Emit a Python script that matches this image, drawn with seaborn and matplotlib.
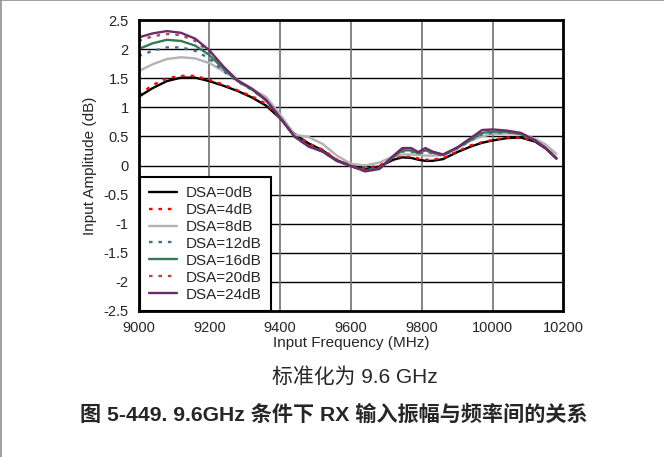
import numpy as np
import pandas as pd
import matplotlib
matplotlib.use("Agg")
import matplotlib.pyplot as plt
import seaborn as sns

# frecuencias (MHz) y amplitudes (dB)
freq = [9000, 9040, 9080, 9120, 9160, 9200, 9240, 9280, 9320, 9360, 9400,
        9440, 9480, 9520, 9560, 9600, 9640, 9680, 9720, 9745, 9770, 9790,
        9810, 9830, 9860, 9900, 9940, 9970, 10000, 10040, 10080, 10120,
        10150, 10180]

dsa_0 = [1.18, 1.33, 1.45, 1.51, 1.51, 1.45, 1.37, 1.28, 1.17, 1.03, 0.81,
         0.54, 0.38, 0.26, 0.09, 0.00, -0.06, -0.02, 0.10, 0.14, 0.13, 0.10,
         0.08, 0.08, 0.11, 0.23, 0.33, 0.39, 0.43, 0.47, 0.48, 0.41,
         0.29, 0.12]
dsa_4 = [1.22, 1.38, 1.50, 1.54, 1.54, 1.47, 1.39, 1.29, 1.19, 1.06, 0.82,
         0.55, 0.38, 0.27, 0.10, 0.01, -0.05, 0.00, 0.13, 0.16, 0.15, 0.12,
         0.10, 0.10, 0.13, 0.24, 0.35, 0.40, 0.44, 0.48, 0.48, 0.42,
         0.30, 0.13]
dsa_8 = [1.62, 1.74, 1.83, 1.86, 1.84, 1.76, 1.62, 1.47, 1.32, 1.18, 0.88,
         0.53, 0.49, 0.37, 0.17, 0.03, 0.00, 0.05, 0.16, 0.19, 0.19, 0.18,
         0.17, 0.17, 0.18, 0.30, 0.43, 0.50, 0.54, 0.55, 0.54, 0.46,
         0.36, 0.20]
dsa_12 = [1.88, 1.97, 2.03, 2.03, 1.97, 1.84, 1.62, 1.44, 1.30, 1.12, 0.82,
          0.50, 0.33, 0.24, 0.08, -0.01, -0.08, -0.04, 0.15, 0.24, 0.24, 0.20,
          0.24, 0.21, 0.17, 0.29, 0.44, 0.54, 0.56, 0.57, 0.54, 0.43,
          0.30, 0.13]
dsa_16 = [2.00, 2.10, 2.16, 2.14, 2.06, 1.90, 1.66, 1.45, 1.31, 1.12, 0.82,
          0.50, 0.33, 0.24, 0.08, -0.01, -0.09, -0.05, 0.15, 0.26, 0.26, 0.21,
          0.26, 0.22, 0.18, 0.30, 0.45, 0.56, 0.58, 0.58, 0.54, 0.43,
          0.30, 0.13]
dsa_20 = [2.14, 2.22, 2.26, 2.24, 2.14, 1.95, 1.68, 1.45, 1.31, 1.12, 0.82,
          0.50, 0.33, 0.24, 0.08, -0.01, -0.10, -0.06, 0.16, 0.28, 0.28, 0.22,
          0.28, 0.23, 0.18, 0.31, 0.47, 0.59, 0.60, 0.59, 0.55, 0.43,
          0.30, 0.12]
dsa_24 = [2.20, 2.27, 2.31, 2.28, 2.18, 1.98, 1.70, 1.46, 1.32, 1.13, 0.82,
          0.50, 0.33, 0.24, 0.08, -0.01, -0.10, -0.06, 0.17, 0.30, 0.30, 0.23,
          0.30, 0.24, 0.19, 0.31, 0.48, 0.61, 0.62, 0.60, 0.56, 0.43,
          0.30, 0.12]

labels = ["DSA=0dB", "DSA=4dB", "DSA=8dB", "DSA=12dB", "DSA=16dB", "DSA=20dB", "DSA=24dB"]
series = [dsa_0, dsa_4, dsa_8, dsa_12, dsa_16, dsa_20, dsa_24]
colores = ["#000000", "#ff0000", "#b3b3b3", "#3d6f8e", "#2f7a58", "#b04c48", "#6b2c6c"]
estilos = ["-", (0, (1.5, 2.5)), "-", (0, (1.5, 2.5)), "-", (0, (1.5, 2.5)), "-"]

sns.set_style("white")
plt.rcParams["font.family"] = ["Liberation Sans", "Noto Sans CJK SC", "DejaVu Sans"]

fig = plt.figure(figsize=(6.64, 4.57), dpi=100)
ax = fig.add_axes([0.2086, 0.3195, 0.640, 0.6367])

for lab, vals, col, ls in zip(labels, series, colores, estilos):
    sns.lineplot(x=freq, y=vals, ax=ax, color=col, linestyle=ls, linewidth=1.7,
                 label=lab, sort=False)

ax.set_xlim(9000, 10200)
ax.set_ylim(-2.5, 2.5)
ax.set_xticks(np.arange(9000, 10201, 200))
ax.set_yticks(np.arange(-2.5, 2.51, 0.5))
ax.set_yticklabels([f"{v:g}" for v in np.arange(-2.5, 2.51, 0.5)])
ax.tick_params(length=0, labelsize=10.5)
ax.tick_params(axis="x", pad=7)
ax.tick_params(axis="y", pad=7)

# rejilla: horizontales negras, verticales grises
ax.grid(False)
for y in np.arange(-2.0, 2.5, 0.5):
    ax.axhline(y, color="black", linewidth=1.0, zorder=0)
for x in np.arange(9200, 10200, 200):
    ax.axvline(x, color="#707070", linewidth=1.2, zorder=0)

for s in ax.spines.values():
    s.set_color("black")
    s.set_linewidth(2)

ax.set_xlabel("Input Frequency (MHz)", fontsize=11, labelpad=1)
ax.set_ylabel("Input Amplitude (dB)", fontsize=11, labelpad=5)

leg = ax.legend(loc="lower left", bbox_to_anchor=(0.003, 0.0), borderaxespad=0,
                fontsize=11, frameon=True, fancybox=False, framealpha=1,
                labelspacing=0.19, handlelength=1.8, handletextpad=0.6,
                borderpad=0.62)
leg.get_frame().set_edgecolor("black")
leg.get_frame().set_linewidth(1.5)

fig.text(0.535, 1 - 377 / 457, "标准化为 9.6 GHz", ha="center", va="center", fontsize=15)
fig.text(0.503, 1 - 414 / 457, "图 5-449. 9.6GHz 条件下 RX 输入振幅与频率间的关系",
         ha="center", va="center", fontsize=15.2, fontweight="bold")

# borde gris arriba y a la izquierda
fig.add_artist(plt.Line2D([0, 1], [0.999, 0.999], color="#909090", linewidth=1.2,
                          transform=fig.transFigure))
fig.add_artist(plt.Line2D([0.001, 0.001], [0, 1], color="#909090", linewidth=1.2,
                          transform=fig.transFigure))

fig.savefig("out.png", dpi=100)
